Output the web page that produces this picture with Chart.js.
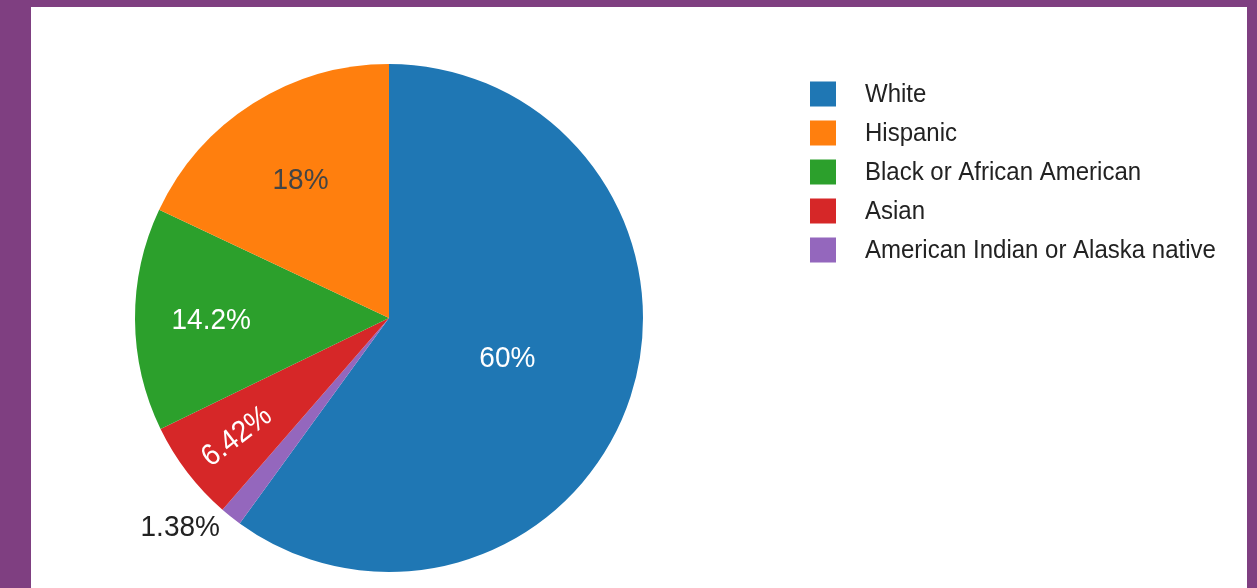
<!DOCTYPE html>
<html>
<head>
<meta charset="utf-8">
<script src="https://cdn.jsdelivr.net/npm/chart.js@4"></script>
<style>
  html, body { margin: 0; padding: 0; }
  body { width: 1257px; height: 588px; background: #7f3f81; position: relative; overflow: hidden; }
  #panel { position: absolute; left: 31px; top: 7px; width: 1216px; height: 581px; background: #ffffff; }
  #panel canvas { display: block; }
</style>
</head>
<body>
<div id="panel"><canvas id="c" width="1216" height="581"></canvas></div>
<script>
// Data in drawing order (clockwise from 12 o'clock)
const categories = ["White", "American Indian or Alaska native", "Asian", "Black or African American", "Hispanic"];
const values = [60, 1.38, 6.42, 14.2, 18];
const colors = ["#1f77b4", "#9467bd", "#d62728", "#2ca02c", "#ff7f0e"];
// Legend order as shown in the reference
const legendOrder = ["White", "Hispanic", "Black or African American", "Asian", "American Indian or Alaska native"];

const FONT = "'Liberation Sans', Arial, sans-serif";

// label placement styles per slice (same order as categories)
const labelStyle = [
  { f: 0.49, color: "#ffffff" },
  { outside: true, color: "#222222", dx: -11, dy: 11 },
  { f: 0.755, color: "#ffffff", rotate: true },
  { f: 0.70, color: "#ffffff" },
  { f: 0.65, color: "#444444" }
];

function pctText(v, total) {
  const p = v / total * 100;
  return Number(p.toPrecision(3)).toString() + "%";
}

const sliceLabels = {
  id: "sliceLabels",
  afterDatasetsDraw(chart) {
    const ctx = chart.ctx;
    const meta = chart.getDatasetMeta(0);
    const data = chart.data.datasets[0].data;
    const total = data.reduce((a, b) => a + b, 0);
    ctx.save();
    ctx.font = "28px " + FONT;
    meta.data.forEach((arc, i) => {
      const st = labelStyle[i];
      const { x, y, startAngle, endAngle, outerRadius } = arc.getProps(["x", "y", "startAngle", "endAngle", "outerRadius"], true);
      const mid = (startAngle + endAngle) / 2;
      const txt = pctText(data[i], total);
      ctx.fillStyle = st.color;
      if (st.outside) {
        const px = x + Math.cos(mid) * outerRadius + st.dx;
        const py = y + Math.sin(mid) * outerRadius + st.dy;
        ctx.textAlign = "right";
        ctx.textBaseline = "middle";
        ctx.save();
        ctx.translate(px, py);
        ctx.scale(1, 1.08);
        ctx.fillText(txt, 0, 0);
        ctx.restore();
      } else {
        const px = x + Math.cos(mid) * outerRadius * st.f;
        const py = y + Math.sin(mid) * outerRadius * st.f + 2;
        ctx.textAlign = "center";
        ctx.textBaseline = "middle";
        ctx.save();
        ctx.translate(px, py);
        if (st.rotate) ctx.rotate(mid - Math.PI);
        ctx.scale(1, 1.08);
        ctx.fillText(txt, 0, 0);
        ctx.restore();
      }
    });
    ctx.restore();
  }
};

const customLegend = {
  id: "customLegend",
  afterDraw(chart) {
    const ctx = chart.ctx;
    const labels = chart.data.labels;
    const bg = chart.data.datasets[0].backgroundColor;
    ctx.save();
    ctx.font = "24px " + FONT;
    ctx.textAlign = "left";
    ctx.textBaseline = "middle";
    legendOrder.forEach((name, k) => {
      const i = labels.indexOf(name);
      const cy = 87 + k * 39;
      ctx.fillStyle = bg[i];
      ctx.fillRect(779, cy - 12.5, 26, 25);
      ctx.fillStyle = "#222222";
      ctx.save();
      ctx.translate(834, cy + 1);
      ctx.scale(1, 1.05);
      ctx.fillText(name, 0, 0);
      ctx.restore();
    });
    ctx.restore();
  }
};

new Chart(document.getElementById("c"), {
  type: "pie",
  data: {
    labels: categories,
    datasets: [{
      data: values,
      backgroundColor: colors,
      borderWidth: 0,
      hoverOffset: 0
    }]
  },
  options: {
    responsive: false,
    animation: false,
    layout: { padding: { left: 104, top: 57, right: 604, bottom: 16 } },
    plugins: {
      legend: { display: false },
      tooltip: { enabled: false }
    }
  },
  plugins: [sliceLabels, customLegend]
});
</script>
</body>
</html>
